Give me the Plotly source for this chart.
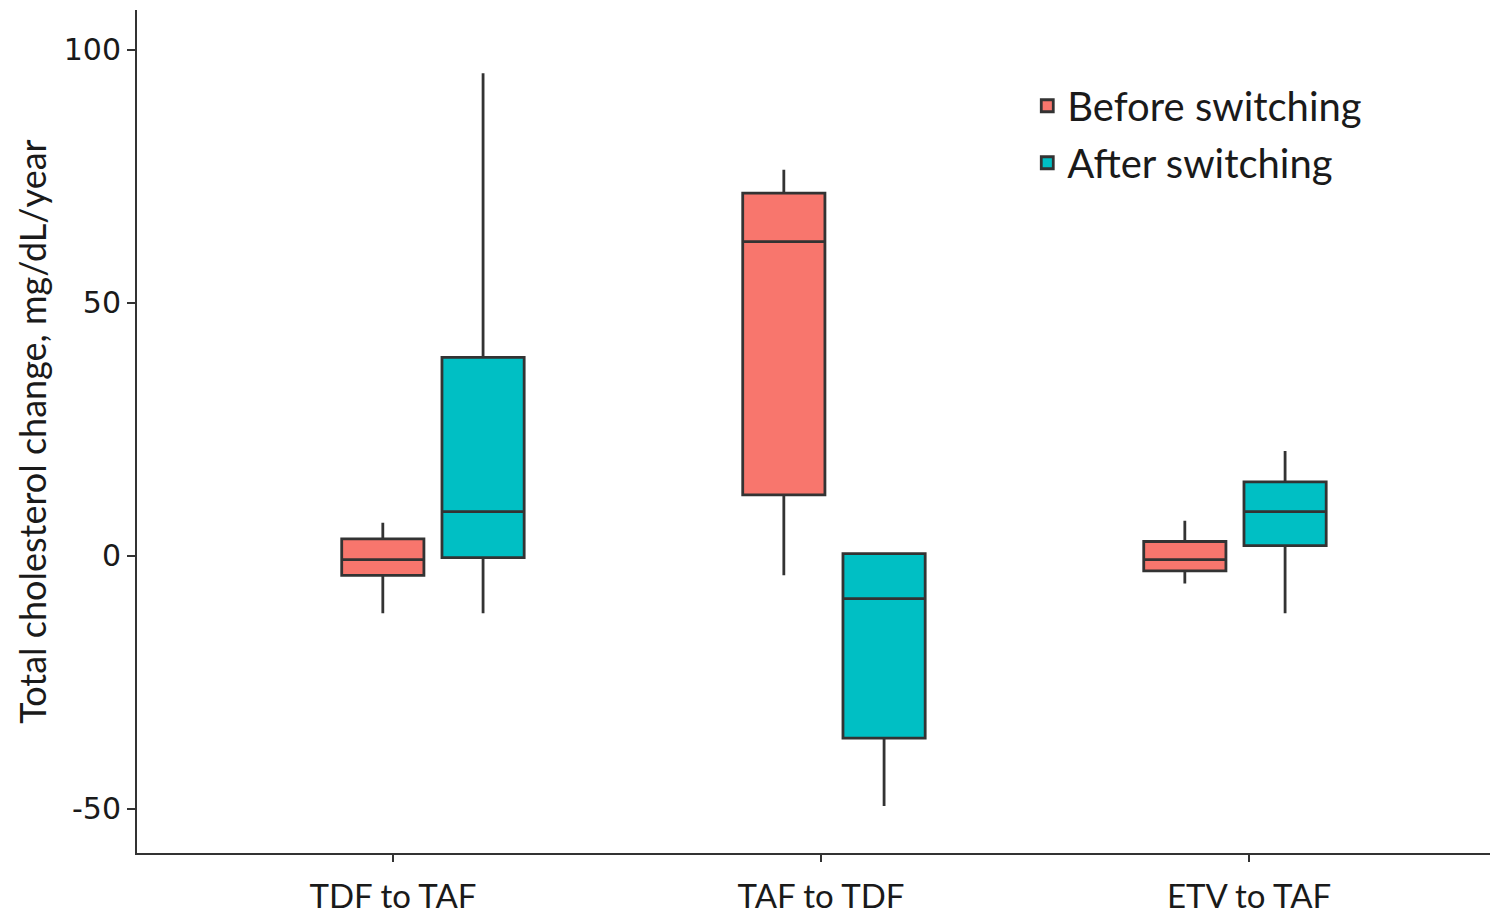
import plotly.graph_objects as go

# Switching groups
categories = ["TDF to TAF", "TAF to TDF", "ETV to TAF"]

# Box summaries (mg/dL/year) before switching
before_lower = [-11.4, -3.9, -5.5]
before_q1 = [-3.9, 12.0, -3.0]
before_median = [-0.8, 62.1, -0.8]
before_q3 = [3.3, 71.7, 2.8]
before_upper = [6.5, 76.3, 6.9]

# Box summaries (mg/dL/year) after switching
after_lower = [-11.4, -49.5, -11.4]
after_q1 = [-0.4, -36.1, 2.0]
after_median = [8.7, -8.5, 8.7]
after_q3 = [39.2, 0.4, 14.6]
after_upper = [95.4, 0.4, 20.7]

y_ticks = [-50, 0, 50, 100]
y_ticktext = ["-50", "0", "50", "100"]

EDGE = "#333333"
TEXT = "#1a1a1a"
FONT = "Lato"

fig = go.Figure()

fig.add_trace(go.Box(
    name="Before switching", x=categories,
    q1=before_q1, median=before_median, q3=before_q3,
    lowerfence=before_lower, upperfence=before_upper,
    fillcolor="#F8766D", line=dict(color=EDGE, width=2.8),
    boxpoints=False, whiskerwidth=0, legendgroup="b",
))
fig.add_trace(go.Box(
    name="After switching", x=categories,
    q1=after_q1, median=after_median, q3=after_q3,
    lowerfence=after_lower, upperfence=after_upper,
    fillcolor="#00BFC4", line=dict(color=EDGE, width=2.8),
    boxpoints=False, whiskerwidth=0, legendgroup="a",
))

# empty trace so the labelled category axis is rendered
fig.add_trace(go.Scatter(
    x=[0, 2], y=[None, None], xaxis="x2", mode="markers",
    showlegend=False, hoverinfo="skip",
))

fig.update_layout(
    width=1494, height=919,
    margin=dict(l=137, r=4, t=10, b=64),
    plot_bgcolor="white", paper_bgcolor="white",
    boxmode="group", boxgap=0.5, boxgroupgap=0.18,
    showlegend=True,
    legend=dict(
        x=0.658, y=0.925, xanchor="left", yanchor="top",
        font=dict(family=FONT, size=40, color=TEXT),
        tracegroupgap=2, bgcolor="rgba(0,0,0,0)",
    ),
    xaxis=dict(
        type="category", categoryorder="array", categoryarray=categories,
        range=[-0.738, 2.636], showticklabels=False, ticks="",
        showline=True, linecolor=EDGE, linewidth=2, showgrid=False,
        zeroline=False,
    ),
    xaxis2=dict(
        overlaying="x", anchor="y", side="bottom",
        range=[-0.598, 2.563], tickmode="array", tickvals=[0, 1, 2],
        ticktext=categories, ticks="outside", ticklen=8, tickwidth=2,
        tickcolor=EDGE, showline=False, showgrid=False, zeroline=False,
        ticklabelstandoff=6,
        tickfont=dict(family=FONT, size=33, color=TEXT),
    ),
    yaxis=dict(
        range=[-58.8, 107.9], tickmode="array", tickvals=y_ticks,
        ticktext=y_ticktext,
        ticks="outside", ticklen=8, tickwidth=2, tickcolor=EDGE,
        showline=True, linecolor=EDGE, linewidth=2, showgrid=False,
        zeroline=False,
        tickfont=dict(family="DejaVu Sans", size=30, color=TEXT),
        title=dict(text="Total cholesterol change, mg/dL/year",
                   font=dict(family=FONT, size=36, color=TEXT),
                   standoff=6),
    ),
)

fig.write_html("out.html")
